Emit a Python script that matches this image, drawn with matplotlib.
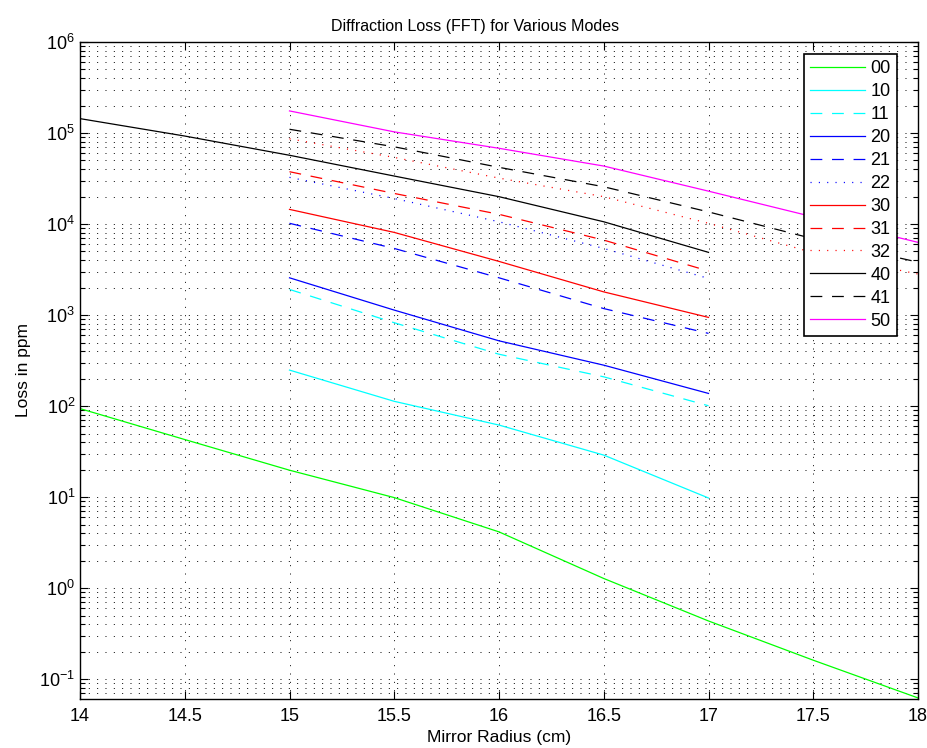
import matplotlib
matplotlib.use("Agg")
import matplotlib.pyplot as plt
from matplotlib.ticker import LogLocator, MultipleLocator, NullFormatter, FormatStrFormatter, FixedLocator

plt.rcParams['font.family'] = ['Liberation Sans', 'DejaVu Sans']
plt.rcParams['mathtext.fontset'] = 'custom'
plt.rcParams['mathtext.rm'] = 'Liberation Sans'
plt.rcParams['mathtext.it'] = 'Liberation Sans'
plt.rcParams['lines.scale_dashes'] = False

# ---- data ----
x_full = [14, 14.5, 15, 15.5, 16, 16.5, 17, 17.5, 18]
x_mid = [15, 15.5, 16, 16.5, 17]
x_left = [14, 14.5, 15, 15.5, 16, 16.5, 17]
x_right = [15, 15.5, 16, 16.5, 17, 17.5, 18]

loss_00 = [94, 43, 19.8, 9.9, 4.16, 1.28, 0.437, 0.162, 0.0624]
loss_10 = [249, 113, 62, 29, 9.8]
loss_11 = [1915, 825, 372, 210, 101]
loss_20 = [2570, 1135, 522, 282, 138]
loss_21 = [10200, 5400, 2570, 1180, 630]
loss_22 = [32600, 19100, 10600, 5400, 2530]
loss_30 = [14500, 8100, 3890, 1800, 944]
loss_31 = [37600, 21700, 12800, 6670, 3050]
loss_32 = [86500, 54000, 32000, 20000, 10200, 4850, 2830]
loss_40 = [144000, 92700, 57000, 33700, 20000, 10600, 4890]
loss_41 = [110000, 70600, 42000, 25700, 13600, 6900, 3820]
loss_50 = [175000, 103000, 68000, 43400, 23000, 12000, 6300]

labels = ['00', '10', '11', '20', '21', '22', '30', '31', '32', '40', '41', '50']
y_decades = [1e-1, 1e0, 1e1, 1e2, 1e3, 1e4, 1e5, 1e6]

DASH = (0, (8.5, 7.0))
DOT = (0, (0.8, 5.2))

series = [
    (x_full, loss_00, '#00ff00', '-'),
    (x_mid, loss_10, '#00ffff', '-'),
    (x_mid, loss_11, '#00ffff', DASH),
    (x_mid, loss_20, '#0000ff', '-'),
    (x_mid, loss_21, '#0000ff', DASH),
    (x_mid, loss_22, '#0000ff', DOT),
    (x_mid, loss_30, '#ff0000', '-'),
    (x_mid, loss_31, '#ff0000', DASH),
    (x_right, loss_32, '#ff0000', DOT),
    (x_left, loss_40, '#000000', '-'),
    (x_right, loss_41, '#000000', DASH),
    (x_right, loss_50, '#ff00ff', '-'),
]

fig = plt.figure(figsize=(9.27, 7.48), dpi=100)
ax = fig.add_axes([80 / 927, 1 - 698.7 / 748, (918 - 80) / 927, (698.7 - 42) / 748])

for (xs, ys, c, ls), lab in zip(series, labels):
    ax.plot(xs, ys, color=c, linestyle=ls, linewidth=0.9, label=lab)

ax.set_yscale('log')
ax.set_xlim(14, 18)
ax.set_ylim(0.0612, 1e6)
ax.xaxis.set_major_locator(MultipleLocator(0.5))
ax.xaxis.set_major_formatter(FormatStrFormatter('%g'))
ax.yaxis.set_major_locator(FixedLocator(y_decades))
ax.yaxis.set_minor_locator(LogLocator(base=10, subs=range(2, 10), numticks=200))
ax.yaxis.set_minor_formatter(NullFormatter())

grid_kw = dict(color='black', linestyle=(0, (0.7, 5.3)), linewidth=0.7)
ax.grid(True, which='major', axis='both', **grid_kw)
ax.grid(True, which='minor', axis='y', **grid_kw)
ax.set_axisbelow(True)

ax.tick_params(which='both', direction='in', top=True, right=True, colors='black', labelsize=13)
ax.tick_params(axis='x', which='major', pad=7)
ax.tick_params(which='major', length=6, width=0.8)
ax.tick_params(which='minor', length=3.5, width=0.8)
for s in ax.spines.values():
    s.set_linewidth(1.0)
    s.set_color('black')

ax.set_title('Diffraction Loss (FFT) for Various Modes', fontsize=11.5, pad=8, x=0.471)
ax.set_xlabel('Mirror Radius (cm)', fontsize=12.5, labelpad=3)
ax.set_ylabel('Loss in ppm', fontsize=12.5, labelpad=6)

leg = ax.legend(loc='upper right', bbox_to_anchor=(0.975, 0.982), borderaxespad=0,
                fontsize=13, handlelength=3.05, handletextpad=0.3, labelspacing=0.33,
                fancybox=False, framealpha=1, edgecolor='black', borderpad=0.35)
leg.get_frame().set_linewidth(1.2)

fig.savefig('out.png', dpi=100)
